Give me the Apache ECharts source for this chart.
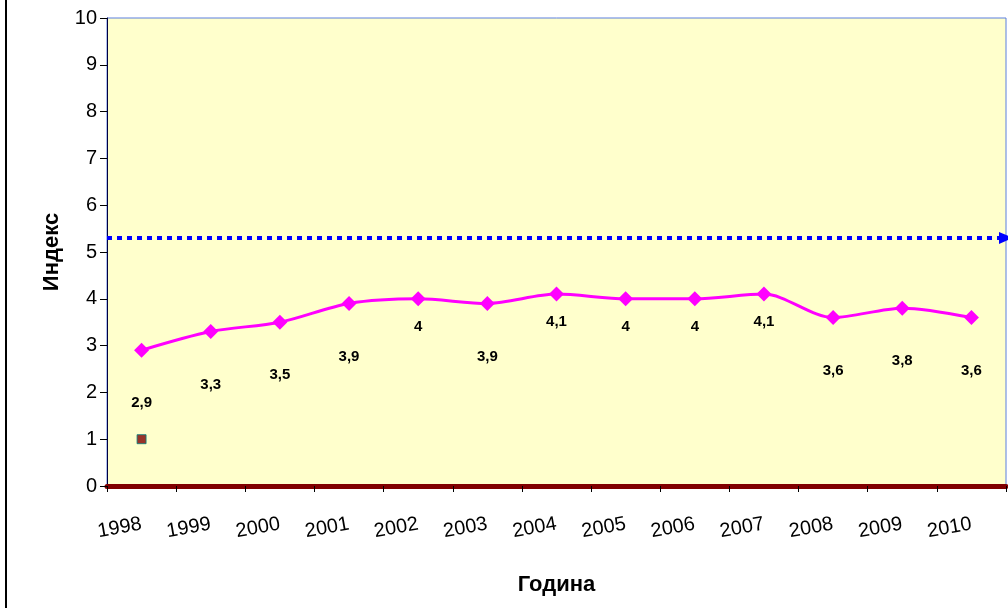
<!DOCTYPE html>
<html>
<head>
<meta charset="utf-8">
<script src="https://cdn.jsdelivr.net/npm/echarts@6/dist/echarts.min.js"></script>
<style>
  html, body { margin: 0; padding: 0; background: #fff; }
  #chart { width: 1008px; height: 608px; }
</style>
</head>
<body>
<div id="chart"></div>
<script>
const years = ['1998', '1999', '2000', '2001', '2002', '2003', '2004', '2005', '2006', '2007', '2008', '2009', '2010'];
const indexValues = [2.9, 3.3, 3.5, 3.9, 4, 3.9, 4.1, 4, 4, 4.1, 3.6, 3.8, 3.6];
const valueLabels = ['2,9', '3,3', '3,5', '3,9', '4', '3,9', '4,1', '4', '4', '4,1', '3,6', '3,8', '3,6'];
const thresholdValue = 5.3;
const extraPoint = [['1998', 1]];

const myChart = echarts.init(document.getElementById('chart'));

myChart.setOption({
  animation: false,
  textStyle: { fontFamily: 'Liberation Sans, Arial, sans-serif' },
  grid: {
    left: 107,
    right: 2,
    top: 18,
    bottom: 122,
    show: true,
    backgroundColor: '#FFFFCC',
    borderColor: '#5b7fe0',
    borderWidth: 1,
  },
  graphic: [
    {
      type: 'line',
      shape: { x1: 6, y1: 0, x2: 6, y2: 608 },
      style: { stroke: '#000', lineWidth: 2 },
    },
  ],
  xAxis: {
    type: 'category',
    data: years,
    boundaryGap: true,
    name: 'Година',
    nameLocation: 'middle',
    nameGap: 88,
    nameTextStyle: { fontSize: 22, fontWeight: 'bold', color: '#000' },
    axisLine: { lineStyle: { color: '#800000', width: 5 } },
    axisTick: { show: true, length: 6, lineStyle: { color: '#000', width: 1 } },
    axisLabel: {
      rotate: 10,
      fontSize: 20,
      color: '#000',
      margin: 38,
    },
  },
  yAxis: {
    type: 'value',
    min: 0,
    max: 10,
    interval: 1,
    name: 'Индекс',
    nameLocation: 'middle',
    nameGap: 44,
    nameTextStyle: { fontSize: 22, fontWeight: 'bold', color: '#000' },
    splitLine: { show: false },
    axisLine: { show: true, lineStyle: { color: '#000040', width: 1 } },
    axisTick: { show: true, length: 7, lineStyle: { color: '#000' } },
    axisLabel: { fontSize: 20, color: '#000', margin: 10 },
  },
  series: [
    {
      name: 'Индекс',
      type: 'line',
      smooth: 0.3,
      symbol: 'diamond',
      symbolSize: 15,
      z: 3,
      lineStyle: { color: '#FF00FF', width: 3 },
      itemStyle: { color: '#FF00FF' },
      data: indexValues.map((v, i) => ({
        value: v,
        label: {
          show: true,
          position: 'bottom',
          // Excel put the 4+ labels closer to the line
          distance: v >= 4 ? 13 : 38,
          formatter: valueLabels[i],
          fontSize: 15,
          fontWeight: 'bold',
          color: '#000',
        },
      })),
      markLine: {
        silent: true,
        symbol: ['none', 'triangle'],
        symbolSize: [12, 14],
        label: { show: false },
        lineStyle: { color: '#0000FF', type: [5, 5], width: 4 },
        data: [{ yAxis: thresholdValue }],
      },
    },
    {
      name: 'extra',
      type: 'scatter',
      symbol: 'rect',
      symbolSize: 9,
      z: 4,
      itemStyle: { color: '#800000', borderColor: '#008080', borderWidth: 1 },
      data: extraPoint,
    },
  ],
});
</script>
</body>
</html>
